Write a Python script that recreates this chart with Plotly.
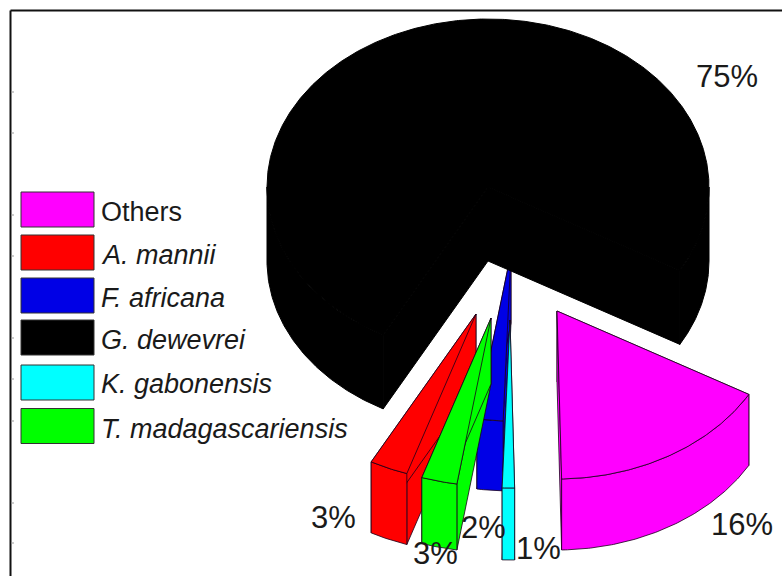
import numpy as np
import plotly.graph_objects as go

# ---- data -----------------------------------------------------------
species = ["Others", "G. dewevrei", "A. mannii", "T. madagascariensis", "F. africana", "K. gabonensis"]
shares = [16.4, 75.4, 2.8, 2.6, 1.9, 0.9]
legend_order = ["Others", "A. mannii", "F. africana", "G. dewevrei", "K. gabonensis", "T. madagascariensis"]
italic = {"A. mannii", "F. africana", "G. dewevrei", "K. gabonensis", "T. madagascariensis"}

# ---- styling ----------------------------------------------------------
colors = {"Others": "#ff00ff", "G. dewevrei": "#000000", "A. mannii": "#ff0000",
          "T. madagascariensis": "#00ff00", "F. africana": "#0000e6", "K. gabonensis": "#00ffff"}
pull = {"Others": (69, 124), "G. dewevrei": (0, 0), "A. mannii": (-12, 127),
        "T. madagascariensis": (3, 131), "F. africana": (23, 66), "K. gabonensis": (22, 133)}
depth = {"Others": 71, "G. dewevrei": 74, "A. mannii": 71,
         "T. madagascariensis": 66, "F. africana": 70, "K. gabonensis": 72}
draw_order = ["F. africana", "G. dewevrei", "A. mannii", "T. madagascariensis", "K. gabonensis", "Others"]
label_pos = {"Others": (742, 524), "G. dewevrei": (727, 76), "A. mannii": (333, 517),
             "T. madagascariensis": (435, 553), "F. africana": (483, 527), "K. gabonensis": (538, 548)}
swatch_mid = [209.5, 252.5, 295.5, 337.5, 382.5, 426]
text_mid = [212, 255, 298, 340, 384, 429]
left_ticks = [92, 133, 215, 256, 338, 379, 421, 503, 543]

CX, CY, RX, RY, START = 488, 187, 221, 168, 1.2
EDGE = "rgba(25,0,25,0.8)"

edges = np.cumsum([0] + shares) / sum(shares) * 360 + START
spans = {s: (edges[i], edges[i + 1]) for i, s in enumerate(species)}

fig = go.Figure()


def poly(xs, ys, color, name):
    fig.add_trace(go.Scatter(x=xs, y=ys, mode="lines", fill="toself", fillcolor=color,
                             line=dict(color=EDGE if color != "#000000" else "#000000", width=1),
                             name=name, showlegend=False, hoverinfo="skip"))


def arc(cx, cy, a0, a1):
    t = np.radians(np.linspace(a0, a1, max(6, int((a1 - a0) * 2))))
    return cx + RX * np.sin(t), cy + RY * np.cos(t)


for sp in draw_order:
    a0, a1 = spans[sp]
    ox, oy = pull[sp]
    h = depth[sp]
    cx, cy = CX + ox, CY + oy
    c = colors[sp]
    ax, ay = arc(cx, cy, a0, a1)
    # radial walls
    for i in (-1, 0):
        poly([cx, ax[i], ax[i], cx, cx], [cy, ay[i], ay[i] + h, cy + h, cy], c, sp)
    # outer wall: only the parts of the rim that face the viewer
    for lo, hi in ((a0, min(a1, 90)), (max(a0, 270), a1)) if a1 > 90 else ((a0, a1),):
        if hi <= lo:
            continue
        wx, wy = arc(cx, cy, lo, hi)
        poly(list(wx) + list(wx[::-1]) + [wx[0]], list(wy) + list(wy[::-1] + h) + [wy[0]], c, sp)
    # top surface
    poly([cx] + list(ax) + [cx], [cy] + list(ay) + [cy], c, sp)

# percentage labels
for sp, v in zip(species, shares):
    x, y = label_pos[sp]
    fig.add_annotation(x=x, y=y, text=f"{round(v)}%", showarrow=False,
                       font=dict(family="Liberation Sans", size=31, color="#1a1a1a"))

# legend
shapes = []
for sp, sm, tm in zip(legend_order, swatch_mid, text_mid):
    shapes.append(dict(type="rect", x0=21, x1=94, y0=sm - 17.5, y1=sm + 17.5,
                       fillcolor=colors[sp], line=dict(color="#333333", width=1), layer="above"))
    label = f"<i>{sp}</i>" if sp in italic else sp
    fig.add_annotation(x=99, y=tm, text=label, showarrow=False, xanchor="left",
                       font=dict(family="Liberation Sans", size=27, color="#1a1a1a"))

# frame and faint left ticks
shapes.append(dict(type="line", x0=10.5, x1=10.5, y0=10.5, y1=576, line=dict(color="#111111", width=2)))
shapes.append(dict(type="line", x0=10.5, x1=782, y0=10.5, y1=10.5, line=dict(color="#111111", width=2)))
for ty in left_ticks:
    shapes.append(dict(type="line", x0=11, x1=14, y0=ty, y1=ty, line=dict(color="#999999", width=1)))

fig.update_layout(
    width=782, height=576, margin=dict(l=0, r=0, t=0, b=0),
    paper_bgcolor="white", plot_bgcolor="white", showlegend=False, shapes=shapes,
    xaxis=dict(range=[0, 782], visible=False, fixedrange=True),
    yaxis=dict(range=[576, 0], visible=False, fixedrange=True),
)
fig.write_html("out.html", post_script="document.body.style.margin='0';",
               config={"displayModeBar": False})
